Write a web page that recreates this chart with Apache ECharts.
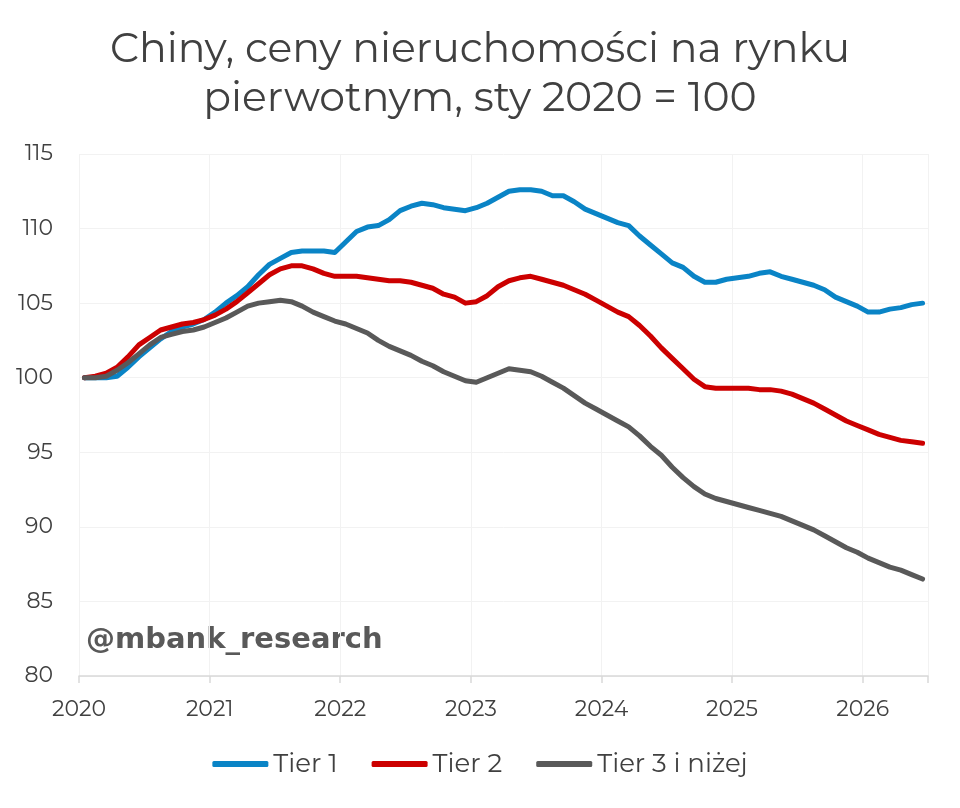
<!DOCTYPE html>
<html>
<head>
<meta charset="utf-8">
<title>Chiny, ceny nieruchomości</title>
<script src="https://cdn.jsdelivr.net/npm/echarts@6/dist/echarts.min.js"></script>
<style>
  html, body { margin: 0; padding: 0; background: #fff; }
  #chart { width: 960px; height: 808px; }
</style>
</head>
<body>
<div id="chart"></div>
<script>
// miesiące sty 2020 - cze 2026
const months = [];
for (let y = 2020; y <= 2026; y++) {
  for (let m = 1; m <= 12; m++) {
    if (y === 2026 && m > 6) break;
    months.push(y + '-' + (m < 10 ? '0' + m : m));
  }
}
const yearLabels = ['2020', '2021', '2022', '2023', '2024', '2025', '2026'];

const tier1 = [
  100.0, 100.0, 100.0, 100.1, 100.7, 101.4, 102.0, 102.6, 103.1, 103.4, 103.6, 103.9,
  104.4, 105.0, 105.5, 106.1, 106.9, 107.6, 108.0, 108.4, 108.5, 108.5, 108.5, 108.4,
  109.1, 109.8, 110.1, 110.2, 110.6, 111.2, 111.5, 111.7, 111.6, 111.4, 111.3, 111.2,
  111.4, 111.7, 112.1, 112.5, 112.6, 112.6, 112.5, 112.2, 112.2, 111.8, 111.3, 111.0,
  110.7, 110.4, 110.2, 109.5, 108.9, 108.3, 107.7, 107.4, 106.8, 106.4, 106.4, 106.6,
  106.7, 106.8, 107.0, 107.1, 106.8, 106.6, 106.4, 106.2, 105.9, 105.4, 105.1, 104.8,
  104.4, 104.4, 104.6, 104.7, 104.9, 105.0
];
const tier2 = [
  100.0, 100.1, 100.3, 100.7, 101.4, 102.2, 102.7, 103.2, 103.4, 103.6, 103.7, 103.9,
  104.2, 104.6, 105.1, 105.7, 106.3, 106.9, 107.3, 107.5, 107.5, 107.3, 107.0, 106.8,
  106.8, 106.8, 106.7, 106.6, 106.5, 106.5, 106.4, 106.2, 106.0, 105.6, 105.4, 105.0,
  105.1, 105.5, 106.1, 106.5, 106.7, 106.8, 106.6, 106.4, 106.2, 105.9, 105.6, 105.2,
  104.8, 104.4, 104.1, 103.5, 102.8, 102.0, 101.3, 100.6, 99.9, 99.4, 99.3, 99.3,
  99.3, 99.3, 99.2, 99.2, 99.1, 98.9, 98.6, 98.3, 97.9, 97.5, 97.1, 96.8,
  96.5, 96.2, 96.0, 95.8, 95.7, 95.6
];
const tier3 = [
  100.0, 100.0, 100.1, 100.5, 101.0, 101.6, 102.2, 102.7, 102.9, 103.1, 103.2, 103.4,
  103.7, 104.0, 104.4, 104.8, 105.0, 105.1, 105.2, 105.1, 104.8, 104.4, 104.1, 103.8,
  103.6, 103.3, 103.0, 102.5, 102.1, 101.8, 101.5, 101.1, 100.8, 100.4, 100.1, 99.8,
  99.7, 100.0, 100.3, 100.6, 100.5, 100.4, 100.1, 99.7, 99.3, 98.8, 98.3, 97.9,
  97.5, 97.1, 96.7, 96.1, 95.4, 94.8, 94.0, 93.3, 92.7, 92.2, 91.9, 91.7,
  91.5, 91.3, 91.1, 90.9, 90.7, 90.4, 90.1, 89.8, 89.4, 89.0, 88.6, 88.3,
  87.9, 87.6, 87.3, 87.1, 86.8, 86.5
];

// punkt w środku miesiąca
function toPoints(vals) {
  return vals.map((v, i) => [i + 0.5, v]);
}

const font = 'Montserrat, "Open Sans", "Noto Sans", sans-serif';
const chart = echarts.init(document.getElementById('chart'));

chart.setOption({
  backgroundColor: '#ffffff',
  animation: false,
  title: {
    text: 'Chiny, ceny nieruchomości na rynku\npierwotnym, sty 2020 = 100',
    left: 'center',
    top: 20,
    textStyle: {
      fontFamily: font,
      fontSize: 41,
      fontWeight: 'normal',
      color: '#404040',
      lineHeight: 49
    }
  },
  grid: { left: 79, right: 32, top: 154, bottom: 132 },
  legend: {
    bottom: 26,
    left: 'center',
    icon: 'roundRect',
    itemWidth: 56,
    itemHeight: 6,
    itemGap: 34,
    textStyle: { fontFamily: font, fontSize: 26, color: '#404040' },
    data: ['Tier 1', 'Tier 2', 'Tier 3 i niżej']
  },
  xAxis: {
    type: 'value',
    min: 0,
    max: months.length,
    interval: 12,
    axisLine: { lineStyle: { color: '#d9d9d9', width: 1.5 } },
    axisTick: { show: true, length: 7, lineStyle: { color: '#d9d9d9', width: 1.5 } },
    splitLine: { show: true, lineStyle: { color: '#f2f2f2' } },
    axisLabel: {
      fontFamily: font, fontSize: 22, color: '#404040', margin: 23,
      formatter: v => yearLabels[v / 12] || ''
    }
  },
  yAxis: {
    type: 'value',
    min: 80,
    max: 115,
    interval: 5,
    axisLine: { show: false },
    axisTick: { show: false },
    splitLine: { lineStyle: { color: '#f2f2f2' } },
    axisLabel: { fontFamily: font, fontSize: 22, color: '#404040', margin: 26 }
  },
  graphic: [{
    type: 'text',
    left: 86,
    top: 626,
    style: {
      text: '@mbank_research',
      fontFamily: 'Verdana, "DejaVu Sans", sans-serif',
      fontWeight: 'bold',
      fontSize: 29,
      fill: '#595959'
    }
  }],
  series: [
    { name: 'Tier 1', type: 'line', data: toPoints(tier1), showSymbol: false, symbol: 'none',
      lineStyle: { width: 5, color: '#0a84c6', cap: 'round', join: 'round' }, itemStyle: { color: '#0a84c6' } },
    { name: 'Tier 2', type: 'line', data: toPoints(tier2), showSymbol: false, symbol: 'none',
      lineStyle: { width: 5, color: '#cc0000', cap: 'round', join: 'round' }, itemStyle: { color: '#cc0000' } },
    { name: 'Tier 3 i niżej', type: 'line', data: toPoints(tier3), showSymbol: false, symbol: 'none',
      lineStyle: { width: 5, color: '#595959', cap: 'round', join: 'round' }, itemStyle: { color: '#595959' } }
  ]
});
</script>
</body>
</html>
